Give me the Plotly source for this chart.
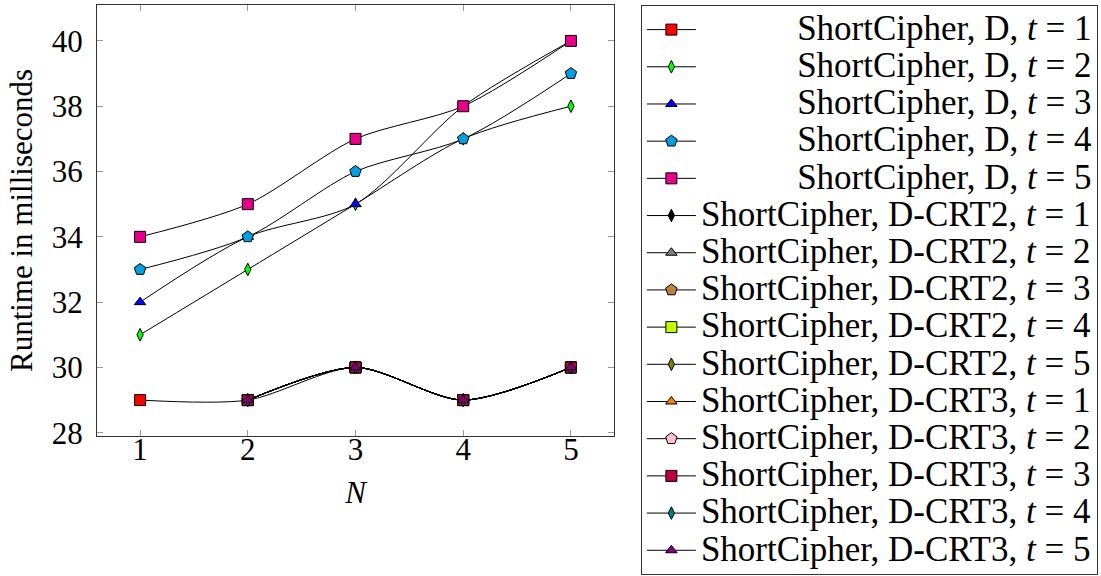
import plotly.graph_objects as go

N_full = [1, 2, 3, 4, 5]
N_crt = [2, 3, 4, 5]

d_t1 = [29, 29, 30, 29, 30]
d_t2 = [31, 33, 35, 37, 38]
d_t3 = [32, 34, 35, 38, 40]
d_t4 = [33, 34, 36, 37, 39]
d_t5 = [34, 35, 37, 38, 40]

crt2_t1 = [29, 30, 29, 30]
crt2_t2 = [29, 30, 29, 30]
crt2_t3 = [29, 30, 29, 30]
crt2_t4 = [29, 30, 29, 30]
crt2_t5 = [29, 30, 29, 30]

crt3_t1 = [29, 30, 29, 30]
crt3_t2 = [29, 30, 29, 30]
crt3_t3 = [29, 30, 29, 30]
crt3_t4 = [29, 30, 29, 30]
crt3_t5 = [29, 30, 29, 30]

y_ticks = [28, 30, 32, 34, 36, 38, 40]

series = [
    ("D", 1, N_full, d_t1, "square", "#ff0000", 11),
    ("D", 2, N_full, d_t2, "diamond-tall", "#00ff00", 9),
    ("D", 3, N_full, d_t3, "triangle-up", "#0000ff", 10),
    ("D", 4, N_full, d_t4, "pentagon", "#00a0e0", 12),
    ("D", 5, N_full, d_t5, "square", "#e6008a", 11),
    ("D-CRT2", 1, N_crt, crt2_t1, "diamond-tall", "#000000", 9),
    ("D-CRT2", 2, N_crt, crt2_t2, "triangle-up", "#808080", 10),
    ("D-CRT2", 3, N_crt, crt2_t3, "pentagon", "#c08040", 12),
    ("D-CRT2", 4, N_crt, crt2_t4, "square", "#bfff00", 11),
    ("D-CRT2", 5, N_crt, crt2_t5, "diamond-tall", "#808000", 9),
    ("D-CRT3", 1, N_crt, crt3_t1, "triangle-up", "#ff8000", 10),
    ("D-CRT3", 2, N_crt, crt3_t2, "pentagon", "#ffc0cb", 12),
    ("D-CRT3", 3, N_crt, crt3_t3, "square", "#bf0040", 11),
    ("D-CRT3", 4, N_crt, crt3_t4, "diamond-tall", "#008080", 9),
    ("D-CRT3", 5, N_crt, crt3_t5, "triangle-up", "#800080", 10),
]

FONT = "Liberation Serif, Times New Roman, serif"

fig = go.Figure()
for variant, t, xs, ys, sym, col, sz in series:
    pad = "\u00a0" * 11 if variant == "D" else ""
    name = f'<span style="font-size:35px">{pad}ShortCipher, {variant}, <i>t</i> = {t}</span>'
    fig.add_trace(go.Scatter(
        x=xs, y=ys, name=name, mode="lines+markers",
        line=dict(color="#000000", width=1, shape="spline", smoothing=0.8),
        marker=dict(symbol=sym, color=col, size=sz, line=dict(color="#000000", width=1)),
    ))

fig.update_layout(
    width=1101, height=576,
    margin=dict(l=97, r=487, t=5, b=0),
    paper_bgcolor="white", plot_bgcolor="white",
    font=dict(family=FONT, color="black", size=31),
    legend=dict(
        x=1.052, xanchor="left", y=1, yanchor="top",
        bordercolor="#333333", borderwidth=1, bgcolor="white",
        font=dict(family=FONT, size=26.3, color="black"),
        itemwidth=49, tracegroupgap=0,
    ),
)
fig.update_xaxes(
    range=[0.6, 5.4], tickvals=N_full, ticktext=[str(v) for v in N_full],
    ticks="inside", ticklen=6, tickcolor="#999999", tickwidth=1,
    showline=True, linecolor="#333333", linewidth=1, mirror="allticks",
    showgrid=False, zeroline=False, automargin=False,
    tickfont=dict(family=FONT, size=31), ticklabelstandoff=-14,
    title=dict(text="<i>N</i>", font=dict(family=FONT, size=31), standoff=15),
)
fig.update_yaxes(
    domain=[140 / 571, 1],
    range=[27.9, 41.1], tickvals=y_ticks, ticktext=[str(v) for v in y_ticks],
    ticks="inside", ticklen=6, tickcolor="#999999", tickwidth=1,
    showline=True, linecolor="#333333", linewidth=1, mirror="allticks",
    showgrid=False, zeroline=False, automargin=False,
    tickfont=dict(family=FONT, size=31), ticklabelstandoff=7,
    title=dict(text="Runtime in milliseconds", font=dict(family=FONT, size=31), standoff=9),
)

fig.write_html(
    "out.html",
    config={"displayModeBar": False},
    post_script="document.body.style.margin='0px';",
)
